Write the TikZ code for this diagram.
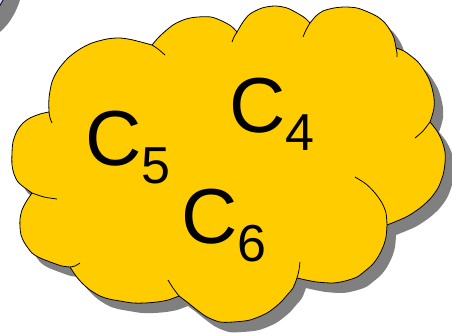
\documentclass[tikz,border=0pt]{standalone}
\usepackage{fontspec}
\setmainfont{Liberation Sans}
\usepackage{xcolor}
\definecolor{cloudgold}{RGB}{255,204,0}
\definecolor{shadowgray}{RGB}{128,128,128}
\definecolor{blobviolet}{RGB}{204,204,255}
\newcommand{\lowdigit}[1]{\raisebox{-18pt}{\fontsize{52}{52}\selectfont #1}}
\newcommand{\cloudpath}{(49,112)
  -- plot[smooth] coordinates {(49,112) (49,98) (52,82) (58,70) (68,58) (80,49) (92,43) (107,39) (120,38) (133,40) (152,45)}
  -- plot[smooth] coordinates {(152,45) (160,36) (173,25) (186,19) (198,17) (211,17) (222,21) (231,26) (237,32)}
  -- plot[smooth] coordinates {(237,32) (243,22) (250,14) (262,8) (275,6) (287,8) (297,13) (305,18) (310,23)}
  -- plot[smooth] coordinates {(310,23) (316,16) (323,11) (334,8) (345,7) (357,8) (368,12) (378,17) (385,23) (390,30) (394,38) (396,48)}
  -- plot[smooth] coordinates {(396,48) (404,51) (411,56) (418,62) (424,70) (429,79) (432,88) (434,98) (434,108) (432,116) (430,122)}
  -- plot[smooth] coordinates {(430,122) (437,131) (442,141) (445,152) (445,163) (443,175) (438,188) (430,199) (420,208) (408,216) (397,221) (387,225)}
  -- plot[smooth] coordinates {(387,225) (386,237) (383,247) (378,257) (372,265) (365,271) (357,277) (345,281) (333,283) (317,282) (306,280) (297,278)}
  -- plot[smooth] coordinates {(297,278) (293,288) (288,294) (280,303) (267,313) (250,320) (233,322) (220,322) (207,317) (197,310) (187,302) (179,296)}
  -- plot[smooth] coordinates {(179,296) (168,300) (157,302) (145,303) (133,303) (120,301) (109,299) (100,296) (90,290) (82,283) (76,276) (70,267)}
  -- plot[smooth] coordinates {(70,267) (62,266) (53,263) (45,260) (38,257) (32,253) (28,248) (24,242) (21,235) (20,227) (20,219) (22,210) (26,202) (32,193)}
  -- plot[smooth] coordinates {(32,193) (25,188) (18,182) (14,174) (12,165) (12,153) (13,142) (17,131) (23,123) (30,118) (40,114) (49,112)}
  -- cycle}

\begin{document}
\begin{tikzpicture}[x=1pt,y=-1pt,line join=round,
    cloudline/.style={draw=black,line width=0.8pt},
    lbl/.style={anchor=base west,inner sep=0pt,font=\fontsize{78}{78}\selectfont}]
  \clip (0,0) rectangle (452,332);
  % corner of the neighbouring shape
  \fill[shadowgray] (-25,-30) ellipse [x radius=49.5,y radius=71.8];
  \filldraw[fill=blobviolet,cloudline] (-36,-44) ellipse [x radius=49.5,y radius=71.8];
  % cloud with its shadow
  \begin{scope}[shift={(9,10)}]
    \fill[shadowgray] \cloudpath;
  \end{scope}
  \filldraw[fill=cloudgold,cloudline] \cloudpath;
  % inner ends of the puffs
  \draw[cloudline] plot[smooth] coordinates {(152,45) (158,49) (165,55)};
  \draw[cloudline] plot[smooth] coordinates {(237,32) (234,37) (232,42)};
  \draw[cloudline] plot[smooth] coordinates {(310,23) (306,30) (303,37)};
  \draw[cloudline] plot[smooth] coordinates {(396,48) (397,53) (397,57)};
  \draw[cloudline] plot[smooth] coordinates {(430,122) (423,131) (415,138)};
  \draw[cloudline] plot[smooth] coordinates {(387,225) (386,213) (382,203) (375,193) (366,184) (355,177)};
  \draw[cloudline] plot[smooth] coordinates {(297,278) (299,270) (300,262)};
  \draw[cloudline] plot[smooth] coordinates {(179,296) (173,288) (168,280)};
  \draw[cloudline] plot[smooth] coordinates {(70,267) (75,266) (80,263)};
  \draw[cloudline] plot[smooth] coordinates {(32,193) (44,197) (57,199)};
  \draw[cloudline] plot[smooth] coordinates {(49,112) (50,118) (52,123)};
  % labels
  \node[lbl] (c5) at (85,165) {C\lowdigit{5}};
  \node[lbl] (c4) at (229,132) {C\lowdigit{4}};
  \node[lbl] (c6) at (181,243) {C\lowdigit{6}};
\end{tikzpicture}
\end{document}
